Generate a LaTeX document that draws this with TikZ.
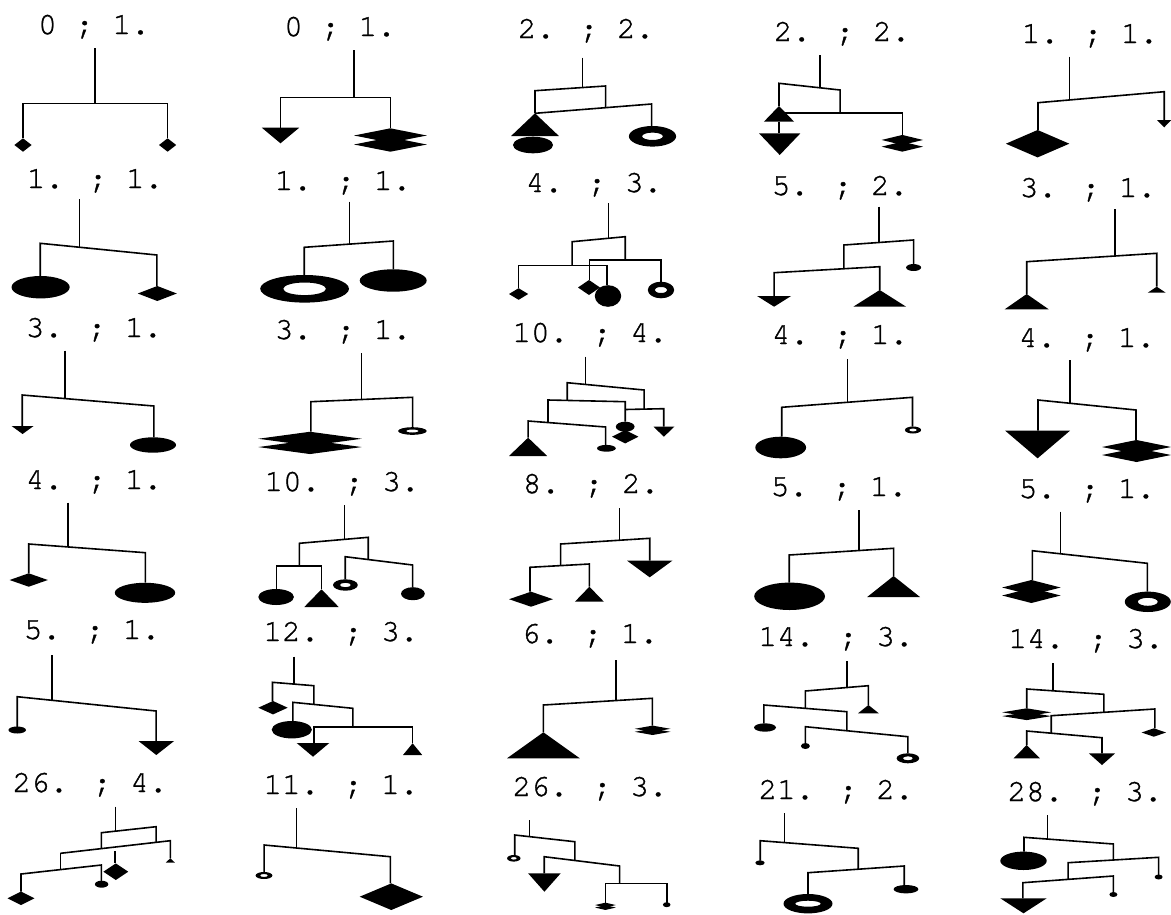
\documentclass[tikz,border=0pt]{standalone}
\usepackage{fontspec}
\newfontfamily\labfont[FakeBold=1.2]{TeX Gyre Cursor}
\newcommand{\mDia}[4]{\fill (#1-#3,#2) -- (#1,#2-#4) -- (#1+#3,#2) -- (#1,#2+#4) -- cycle;}
\newcommand{\mTriU}[4]{\fill (#1,#2) -- (#1+#3,#4) -- (#1-#3,#4) -- cycle;}
\newcommand{\mTriD}[4]{\fill (#1-#3,#2) -- (#1+#3,#2) -- (#1,#4) -- cycle;}
\newcommand{\mEll}[4]{\fill (#1,#2) ellipse [x radius=#3pt, y radius=#4pt];}
\newcommand{\mRing}[6]{\fill[even odd rule] (#1,#2) ellipse [x radius=#3pt, y radius=#4pt] (#1,#2) ellipse [x radius=#5pt, y radius=#6pt];}
\newcommand{\mNDia}[5]{\mDia{#1}{#2-#5/2}{#3}{#4}\mDia{#1}{#2+#5/2}{#3}{#4}}
\begin{document}
\begin{tikzpicture}[x=1pt,y=-1pt,
  ln/.style={line width=1.6pt, line join=miter},
  lab/.style={font=\labfont\fontsize{31}{31}\selectfont, anchor=base, inner sep=0pt}]
\useasboundingbox[fill=white] (0,0) rectangle (1171,914);
% ---------- labels ----------
\node[lab] (l1) at (94,34) {0 ; 1.};
\node[lab] (l2) at (340,36) {0 ; 1.};
\node[lab] (l3) at (586,38) {2. ; 2.};
\node[lab] (l4) at (842,41) {2. ; 2.};
\node[lab] (l5) at (1090,43) {1. ; 1.};
\node[lab] (l6) at (95,188) {1. ; 1.};
\node[lab] (l7) at (343,190) {1. ; 1.};
\node[lab] (l8) at (594,192) {4. ; 3.};
\node[lab] (l9) at (840,195) {5. ; 2.};
\node[lab] (l10) at (1088,197) {3. ; 1.};
\node[lab] (l11) at (94,337) {3. ; 1.};
\node[lab] (l12) at (343,339) {3. ; 1.};
\node[lab] (l13) at (590,342) {10. ; 4.};
\node[lab] (l14) at (840,344) {4. ; 1.};
\node[lab] (l15) at (1087,347) {4. ; 1.};
\node[lab] (l16) at (94,489) {4. ; 1.};
\node[lab] (l17) at (342,491) {10. ; 3.};
\node[lab] (l18) at (591,493) {8. ; 2.};
\node[lab] (l19) at (839,496) {5. ; 1.};
\node[lab] (l20) at (1087,498) {5. ; 1.};
\node[lab] (l21) at (92,639) {5. ; 1.};
\node[lab] (l22) at (341,641) {12. ; 3.};
\node[lab] (l23) at (590,643) {6. ; 1.};
\node[lab] (l24) at (836,646) {14. ; 3.};
\node[lab] (l25) at (1086,648) {14. ; 3.};
\node[lab] (l26) at (90,792) {26. ; 4.};
\node[lab] (l27) at (341,794) {11. ; 1.};
\node[lab] (l28) at (590,796) {26. ; 3.};
\node[lab] (l29) at (836,799) {21. ; 2.};
\node[lab] (l30) at (1085,801) {28. ; 3.};
% ---------- row 1 ----------
% M1
\draw[ln] (94.9,48.3) -- (94.9,103.3);
\draw[ln] (23,138.3) -- (23,103.3) -- (167.6,103.3) -- (167.6,138.3);
\mDia{23}{145}{8.6}{6.7}
\mDia{167.6}{145}{8.6}{6.7}
% M2
\draw[ln] (354,50) -- (354,97.3);
\draw[ln] (280.5,127.7) -- (280.5,97.3) -- (390.4,97.3) -- (390.4,128.3);
\mTriD{280.5}{127.7}{18.7}{143.3}
\mNDia{390.4}{140}{36.4}{7.2}{9}
% M3
\draw[ln] (582.5,57.5) -- (582.5,87.5);
\draw[ln] (535,113.3) -- (535,90.7) -- (605.6,86) -- (605.6,107.5);
\draw[ln] (535,113.3) -- (651.6,104) -- (651.6,126);
\mTriU{535}{113.3}{23.9}{136}
\mEll{533}{145}{20.1}{8.3}
\mRing{652.5}{136.3}{23.6}{10.3}{10.4}{3.7}
% M4
\draw[ln] (820.1,55) -- (820.1,87.8);
\draw[ln] (779,106) -- (779,83.3) -- (840.1,90) -- (840.1,112.7);
\draw[ln] (779,112.7) -- (902.3,112.7) -- (902.3,135);
\draw[ln] (779,121.7) -- (779,133.3);
\mTriU{779}{106}{15.1}{121.7}
\mTriD{779.7}{133.3}{20.7}{155}
\mNDia{902.3}{143.3}{20.7}{5}{6.7}
% M5
\draw[ln] (1069.3,56.7) -- (1069.3,100);
\draw[ln] (1038,130) -- (1038,102.7) -- (1164.2,91.7) -- (1164.2,120);
\mDia{1037.6}{143.7}{31.7}{13.7}
\mTriD{1164.2}{120}{7.2}{127.3}
% ---------- row 2 ----------
% M6
\draw[ln] (79.6,199.3) -- (79.6,247.2);
\draw[ln] (40.2,276) -- (40.2,243.3) -- (156.9,255) -- (156.9,286);
\mEll{40.6}{287.2}{29.1}{11.2}
\mDia{157.3}{293.5}{19.5}{7.5}
% M7
\draw[ln] (349.4,201.7) -- (349.4,244.1);
\draw[ln] (304.2,275) -- (304.2,247.3) -- (393.4,241) -- (393.4,269.3);
\mRing{304.6}{288.8}{44.4}{13.8}{21.4}{6.3}
\mEll{393.2}{280.5}{33.5}{11.2}
% M8
\draw[ln] (608.3,203.3) -- (608.3,238.3);
\draw[ln] (572.1,265.5) -- (572.1,241.7) -- (625.2,236.7) -- (625.2,260);
\draw[ln] (518.6,288.3) -- (518.6,265.5) -- (607.1,265.5) -- (607.1,285);
\draw[ln] (589.4,280) -- (589.4,260) -- (661,260) -- (661,281.7);
\mDia{518.6}{294}{9.6}{5.8}
\mDia{589}{287.5}{11}{7.5}
\mEll{608}{296}{13.2}{10.8}
\mRing{661}{290}{13.2}{8.3}{6.4}{3}
% M9
\draw[ln] (878.9,206.7) -- (878.9,242.5);
\draw[ln] (843.9,268.3) -- (843.9,245) -- (913.6,240) -- (913.6,265);
\mEll{913.6}{267.5}{7.5}{3.5}
\draw[ln] (774.1,296) -- (774.1,272.7) -- (879.7,266.7) -- (879.7,290);
\mTriD{774.1}{296}{17}{306.7}
\mTriU{879.7}{290}{26.4}{306.7}
% M10
\draw[ln] (1115.2,209.3) -- (1115.2,256);
\draw[ln] (1026.7,294) -- (1026.7,261.7) -- (1156.7,253.3) -- (1156.7,286.7);
\mTriU{1026.7}{294}{22}{309.3}
\mTriU{1156.7}{286.7}{9}{292.7}
% ---------- row 3 ----------
% M11
\draw[ln] (65.1,350.7) -- (65.1,398.6);
\draw[ln] (22.2,426) -- (22.2,395) -- (153.8,406) -- (153.8,437.3);
\mTriD{22.6}{426}{11}{434}
\mEll{153}{445}{23}{7.7}
% M12
\draw[ln] (361.6,353.3) -- (361.6,399.5);
\draw[ln] (310.8,431.7) -- (310.8,401.7) -- (412.6,397.3) -- (412.6,427.3);
\mNDia{310}{442.9}{51.7}{7}{8.3}
\mRing{412.4}{431}{14.3}{3.8}{6.5}{1.5}
% M13
\draw[ln] (585.6,356.7) -- (585.6,384.4);
\draw[ln] (567.2,400.3) -- (567.2,382.7) -- (644.1,390) -- (644.1,409.3);
\draw[ln] (548,422.5) -- (548,400) -- (625.2,401.7) -- (625.2,421.7);
\draw[ln] (625.2,409.5) -- (663.7,408.7) -- (663.7,426.7);
\draw[ln] (528.1,437.7) -- (528.1,421) -- (605.6,427) -- (605.6,445);
\mTriU{528.1}{437.7}{19.1}{456}
\mEll{606.4}{448.3}{9.4}{3.4}
\mEll{625.2}{426.7}{9.4}{5}
\mDia{625.2}{436.7}{13.2}{6.7}
\mTriD{663.9}{426.7}{10.4}{436.7}
% M14
\draw[ln] (847.6,359.3) -- (847.6,402.3);
\draw[ln] (781.7,436.7) -- (781.7,407.3) -- (912.5,397.3) -- (912.5,426.7);
\mEll{780.7}{447.5}{25.4}{10.8}
\mRing{913}{430}{8.1}{3.5}{4}{1.5}
% M15
\draw[ln] (1070,360) -- (1070,403.3);
\draw[ln] (1038,430.7) -- (1038,400) -- (1136,410) -- (1136,440);
\mTriD{1037.6}{430.7}{32.4}{458.3}
\mNDia{1136.5}{451}{34.5}{7}{8}
% ---------- row 4 ----------
% M16
\draw[ln] (68.1,502.7) -- (68.1,546.9);
\draw[ln] (28.7,573.3) -- (28.7,544) -- (145.4,552.7) -- (145.4,582.7);
\mDia{28.7}{580}{19.1}{6.7}
\mEll{145}{592.8}{30.2}{10}
% M17
\draw[ln] (344.4,505) -- (344.4,539.4);
\draw[ln] (299.3,566) -- (299.3,543.3) -- (368.2,537.3) -- (368.2,559.3);
\draw[ln] (276.3,589.3) -- (276.3,566) -- (321.5,566) -- (321.5,589.3);
\draw[ln] (345.2,579.3) -- (345.2,556.7) -- (412.6,565) -- (412.6,587.3);
\mEll{276.1}{597}{17.8}{8}
\mTriU{321.5}{589.3}{17.2}{607}
\mRing{345.4}{585}{12.4}{5.7}{5.5}{2.2}
\mEll{412.9}{593.7}{11.9}{6.5}
% M18
\draw[ln] (619.6,508.3) -- (619.6,540.2);
\draw[ln] (560.6,565.6) -- (560.6,544) -- (649.7,538.3) -- (649.7,560.7);
\draw[ln] (530,591.7) -- (530,567.3) -- (589.4,564) -- (589.4,586.7);
\mDia{531}{599.2}{22}{7.5}
\mTriU{589.4}{586.7}{14.5}{601.7}
\mTriD{649.7}{560.7}{22.6}{577.3}
% M19
\draw[ln] (858.9,510) -- (858.9,550.5);
\draw[ln] (789.2,582.7) -- (789.2,555) -- (893.6,548.3) -- (893.6,576);
\mEll{789.6}{596.3}{35.4}{13.7}
\mTriU{893.6}{576}{26.4}{597}
% M20
\draw[ln] (1060.6,511.7) -- (1060.6,553.8);
\draw[ln] (1032.3,580) -- (1032.3,550.7) -- (1147.3,563.3) -- (1147.3,591.7);
\mNDia{1031.4}{591.5}{29.2}{7.5}{8}
\mRing{1147.8}{601.8}{23}{10.2}{10}{4}
% ---------- row 5 ----------
% M21
\draw[ln] (51.7,655) -- (51.7,700.3);
\draw[ln] (17.2,727.7) -- (17.2,696.7) -- (156.1,711) -- (156.1,741);
\mEll{17.2}{730}{8.8}{3.5}
\mTriD{156.3}{741}{17.8}{755}
% M22
\draw[ln] (293.9,656.7) -- (293.9,684.1);
\draw[ln] (272.5,701) -- (272.5,682.3) -- (313.8,685.7) -- (313.8,704.4);
\draw[ln] (292.8,721) -- (292.8,702.3) -- (352.8,708.3) -- (352.8,726.7);
\draw[ln] (313.8,743) -- (313.8,726.7) -- (412.6,726.7) -- (412.6,743.3);
\mDia{273}{707.7}{14.7}{6.7}
\mEll{291.8}{729.7}{20.1}{8.7}
\mTriD{313}{743}{16.3}{756.7}
\mTriU{412.6}{743.3}{9.6}{755}
% M23
\draw[ln] (615.8,660) -- (615.8,700.5);
\draw[ln] (543.4,732.3) -- (543.4,705) -- (652.4,698.3) -- (652.4,725.7);
\mTriU{543.4}{732.3}{36.4}{758.3}
\mNDia{652.6}{730.3}{17.9}{3.2}{3}
% M24
\draw[ln] (846.9,661) -- (846.9,687.5);
\draw[ln] (805.4,708.4) -- (805.4,691) -- (868.4,685.7) -- (868.4,705);
\mTriU{868.4}{705}{10.4}{713.3}
\draw[ln] (763.9,723.3) -- (763.9,705) -- (846.9,711.7) -- (846.9,730.7);
\mEll{765}{727.5}{11}{4.2}
\draw[ln] (805.4,743) -- (805.4,726.7) -- (907.9,736.7) -- (907.9,753.3);
\mEll{805.4}{746}{4.5}{3}
\mRing{907.9}{758.3}{11.3}{5}{5}{2}
% M25
\draw[ln] (1053,663.3) -- (1053,690.8);
\draw[ln] (1026.7,708.3) -- (1026.7,689) -- (1103.9,694.3) -- (1103.9,712.3);
\mNDia{1026.7}{714.2}{24.5}{4}{3.8}
\draw[ln] (1051.2,733.2) -- (1051.2,715.7) -- (1154.8,709) -- (1154.8,728.3);
\mDia{1153.8}{732.5}{12.2}{4.2}
\draw[ln] (1026.7,745) -- (1026.7,731) -- (1102,737.7) -- (1102,753.3);
\mTriU{1026.7}{745}{13.2}{758.3}
\mTriD{1102}{753.3}{13.2}{765}
% ---------- row 6 ----------
% M26
\draw[ln] (115.6,806.7) -- (115.6,831.1);
\draw[ln] (101.4,848.6) -- (101.4,832.7) -- (156.1,826.7) -- (156.1,842.3);
\draw[ln] (60.5,853.3) -- (170.3,840.7) -- (170.3,858.3);
\draw[ln] (114.8,851.1) -- (114.8,863.3);
\draw[ln] (60.5,853.3) -- (60.5,869.6);
\draw[ln] (21,891.7) -- (21,874) -- (101.4,865) -- (101.4,881.7);
\mDia{21}{898.3}{13.4}{6.7}
\mDia{115.8}{871.7}{12.4}{8.3}
\mTriU{170.3}{858.3}{4.5}{862.5}
\mEll{101.6}{884.2}{6.7}{3.5}
% M27
\draw[ln] (296.6,808.3) -- (296.6,848);
\draw[ln] (264.1,872.7) -- (264.1,845) -- (390.4,856.7) -- (390.4,883.3);
\mRing{264}{875.5}{8.4}{3.5}{4}{1.5}
\mDia{391.3}{896.7}{31.6}{13.3}
% M28
\draw[ln] (529.3,820) -- (529.3,836.6);
\draw[ln] (514.7,855) -- (514.7,835) -- (574.8,841.7) -- (574.8,860.5);
\mRing{513.8}{858.3}{6.7}{3.3}{3}{1.3}
\draw[ln] (544.2,873.3) -- (544.2,856.7) -- (619.6,866) -- (619.6,883.3);
\mTriD{544.4}{873.3}{16.3}{891.7}
\draw[ln] (605.6,902.7) -- (605.6,883.3) -- (666.7,883.3) -- (666.7,902.7);
\mNDia{605.4}{906.3}{10.4}{2.4}{2.5}
\mEll{666.7}{904.7}{3.8}{2.5}
% M29
\draw[ln] (784.3,813.3) -- (784.3,842.6);
\draw[ln] (760.2,860.7) -- (760.2,840.7) -- (858.2,848.3) -- (858.2,869.2);
\mEll{760}{862.8}{4.7}{2.5}
\draw[ln] (808,894) -- (808,872.7) -- (904.2,866) -- (904.2,885);
\mRing{808}{903.7}{24.5}{9.7}{12.8}{3}
\mEll{906}{889.2}{12.4}{4.2}
% M30
\draw[ln] (1047.4,815) -- (1047.4,839.1);
\draw[ln] (1024,851.7) -- (1024,837.3) -- (1113.4,844) -- (1113.4,860);
\mEll{1023.5}{860.8}{23.2}{9.2}
\draw[ln] (1068.1,879.3) -- (1068.1,862.7) -- (1158.6,857.3) -- (1158.6,875);
\mEll{1158.6}{877}{4}{2.5}
\draw[ln] (1022.9,898.3) -- (1022.9,882.7) -- (1113.4,876) -- (1113.4,892.7);
\mTriD{1023.5}{898.3}{23.2}{913.3}
\mEll{1113.4}{894.5}{4}{2.5}
\end{tikzpicture}
\end{document}
